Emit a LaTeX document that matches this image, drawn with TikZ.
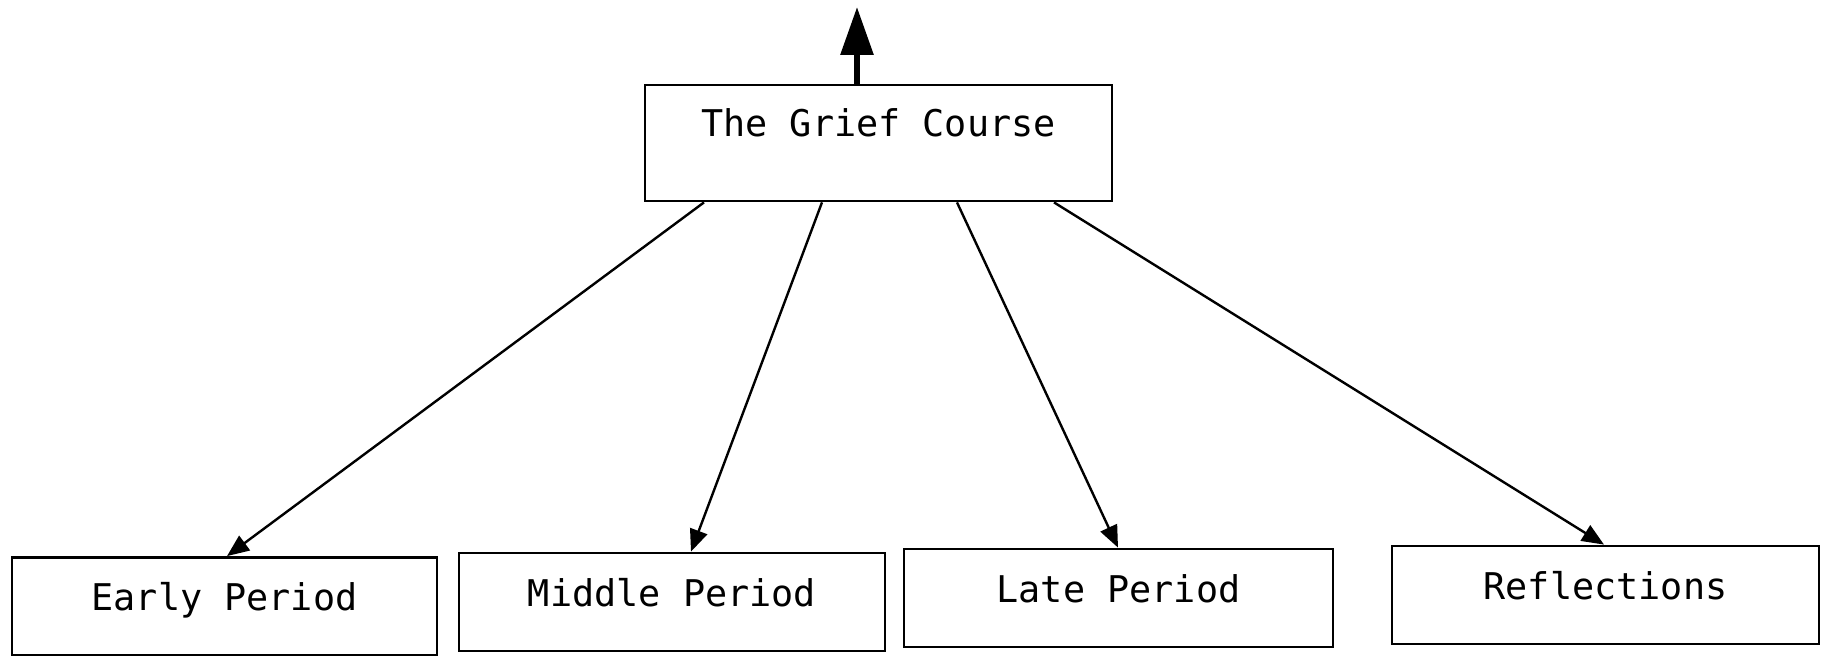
\documentclass[tikz,border=0pt]{standalone}
\usepackage{fontspec}
\setmonofont{DejaVu Sans Mono}
\usetikzlibrary{arrows.meta}
\begin{document}
\begin{tikzpicture}[x=0.5pt,y=-0.5pt,
  box/.style={draw, line width=1.4pt, rectangle, inner sep=0pt, align=center,
    font=\ttfamily\fontsize{18.4pt}{20pt}\selectfont,
    text height=26.75pt, text depth=22.25pt, minimum width=213pt},
  rootbox/.style={box, text height=26pt, text depth=32pt, minimum width=233.5pt},
  link/.style={line width=1.2pt, -{Triangle[length=11pt,width=9pt]}},
  uplink/.style={line width=3pt, -{Triangle[length=24pt,width=16pt]}}]
\useasboundingbox (0,0) rectangle (1822,656);

% top-level node and the arrow leaving it upwards
\node[rootbox] (root) at (878.5,143) {The Grief Course};
\coordinate (up) at (857,7);

% the four sections
\node[box, minimum width=212.5pt] (early) at (224.5,606.5) {Early Period};
\node[box] (middle) at (672,602) {Middle Period};
\node[box, minimum width=214.5pt] (late) at (1118.5,598) {Late Period};
\node[box, minimum width=213.5pt] (refl) at (1605.5,595) {Reflections};

\draw[uplink] ([xshift=-10.75pt]root.north) -- (up);

\draw[link] ([xshift=-87.25pt]root.south) -- ([xshift=1.25pt]early.north);
\draw[link] ([xshift=-28.25pt]root.south) -- ([xshift=9.5pt]middle.north);
\draw[link] ([xshift=39.25pt]root.south) -- ([xshift=-0.25pt]late.north);
\draw[link] ([xshift=87.75pt]root.south) -- ([xshift=-0.75pt]refl.north);
\end{tikzpicture}
\end{document}
